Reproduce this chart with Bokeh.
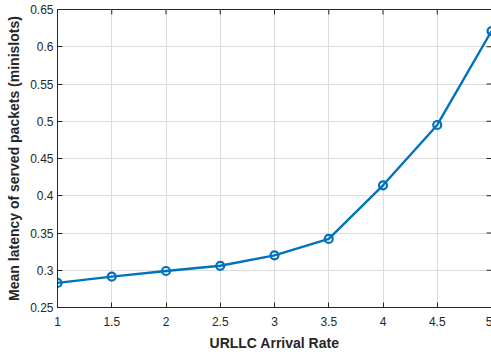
import math
from bokeh.plotting import figure
from bokeh.models import Range1d, FixedTicker
from bokeh.embed import file_html
from bokeh.resources import INLINE

arrival_rate = [1, 1.5, 2, 2.5, 3, 3.5, 4, 4.5, 5]
mean_latency = [0.283, 0.2915, 0.299, 0.306, 0.320, 0.342, 0.414, 0.495, 0.621]
x_ticks = [1, 1.5, 2, 2.5, 3, 3.5, 4, 4.5, 5]
y_ticks = [0.25, 0.3, 0.35, 0.4, 0.45, 0.5, 0.55, 0.6, 0.65]

color = "#0072BD"
dark = "#262626"
font = "Liberation Sans"

x_lo, x_hi = x_ticks[0], x_ticks[-1]
y_lo, y_hi = y_ticks[0], y_ticks[-1]

p = figure(width=492, height=353, output_backend="svg", toolbar_location=None,
           x_range=Range1d(x_lo, x_hi), y_range=Range1d(y_lo, y_hi),
           min_border_left=57, min_border_right=1, min_border_top=9, min_border_bottom=0,
           x_axis_label="URLLC Arrival Rate",
           y_axis_label="Mean latency of served packets (minislots)")
p.outline_line_color = dark
p.outline_line_width = 1
p.background_fill_color = "white"
p.border_fill_color = "white"

p.xaxis.ticker = FixedTicker(ticks=x_ticks)
p.yaxis.ticker = FixedTicker(ticks=y_ticks)
p.xaxis.major_label_overrides = {1: "1", 2: "2", 3: "3", 4: "4", 5: "5"}

for ax in [p.xaxis[0], p.yaxis[0]]:
    ax.axis_line_color = dark
    ax.major_tick_line_color = dark
    ax.major_tick_in = 5
    ax.major_tick_out = 0
    ax.minor_tick_line_color = None
    ax.major_label_text_font = font
    ax.major_label_text_font_size = "12px"
    ax.major_label_text_color = dark
    ax.axis_label_text_font = font
    ax.axis_label_text_font_size = "14px"
    ax.axis_label_text_font_style = "bold"
    ax.axis_label_text_color = dark

p.xaxis.major_label_standoff = 9
p.xaxis.axis_label_standoff = 6
p.yaxis.major_label_standoff = 4
p.yaxis.axis_label_standoff = 5

p.grid.grid_line_color = "#dcdcdc"
p.grid.grid_line_width = 1

# inward ticks on top and right edges (half of each dash is clipped by the frame)
p.scatter(x_ticks, [y_hi] * len(x_ticks), marker="dash", size=10, angle=math.pi / 2,
          line_color=dark, line_width=1)
p.scatter([x_hi] * len(y_ticks), y_ticks, marker="dash", size=10,
          line_color=dark, line_width=1)

p.line(arrival_rate, mean_latency, line_color=color, line_width=2.4)
p.scatter(arrival_rate, mean_latency, marker="circle", size=8, line_color=color,
          line_width=2.2, fill_color=None)

open("out.html", "w").write(file_html(p, INLINE))
